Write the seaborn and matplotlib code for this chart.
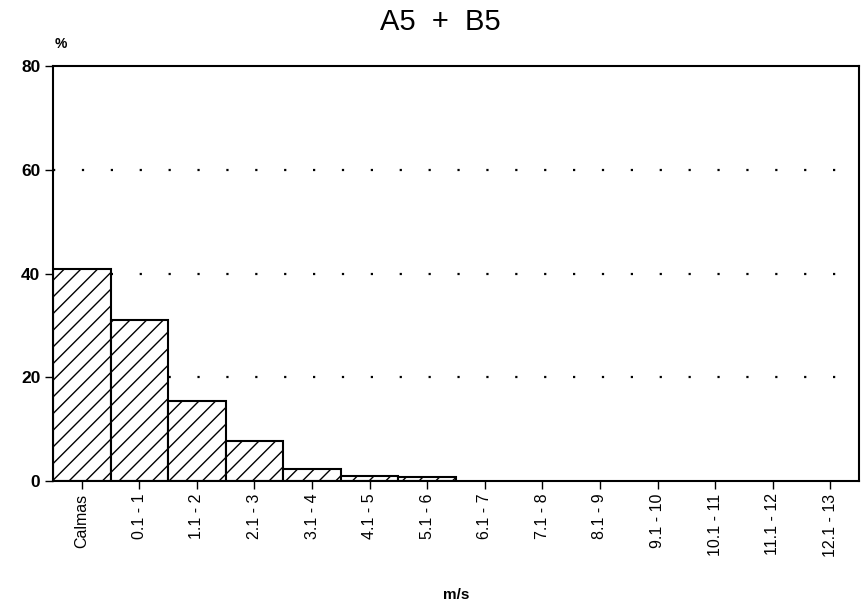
import matplotlib
matplotlib.use("Agg")
import matplotlib.pyplot as plt
import seaborn as sns
import pandas as pd

categories = ["Calmas", "0.1 - 1", "1.1 - 2", "2.1 - 3", "3.1 - 4", "4.1 - 5", "5.1 - 6",
              "6.1 - 7", "7.1 - 8", "8.1 - 9", "9.1 - 10", "10.1 - 11", "11.1 - 12", "12.1 - 13"]
values = [40.8, 31.1, 15.5, 7.7, 2.4, 1.0, 0.8, 0, 0, 0, 0, 0, 0, 0]
yticks = [0, 20, 40, 60, 80]

sns.set_theme(style="white")
plt.rcParams['font.family'] = ['Liberation Sans', 'DejaVu Sans']
plt.rcParams['hatch.linewidth'] = 1.0
plt.rcParams['text.color'] = 'black'
plt.rcParams['xtick.color'] = 'black'
plt.rcParams['ytick.color'] = 'black'

df = pd.DataFrame({"cat": categories, "val": values})

fig = plt.figure(figsize=(8.63, 6.06), dpi=100)
ax = fig.add_axes([0.0614, 0.2063, 0.934, 0.6847])
sns.barplot(data=df, x="cat", y="val", ax=ax, color="white", edgecolor="black",
            linewidth=1.5, width=1.0, hatch="//", saturation=1)
for p in ax.patches:
    p.set_facecolor("white")
    if p.get_height() == 0:
        p.set_visible(False)

ax.set_xlim(-0.5, len(categories) - 0.5)
ax.set_ylim(0, 80)
ax.set_yticks(yticks)
ax.set_yticklabels([str(v) for v in yticks], fontsize=12.5, fontweight="bold")
ax.set_xticks(range(len(categories)))
ax.set_xticklabels(categories, rotation=90, fontsize=11.5)
ax.tick_params(axis="both", direction="out", length=6, width=1, color="black",
               labelcolor="black", bottom=True, left=True, pad=3)
for v in [20, 40, 60]:
    ax.axhline(v, color="black", linestyle=(0, (1, 12)), linewidth=1.6, zorder=0)
for s in ax.spines.values():
    s.set_color("black")
    s.set_linewidth(1.5)
ax.set_xlabel("")
ax.set_ylabel("")
fig.text(0.51, 0.964, "A5  +  B5", ha="center", va="center", fontsize=21, color="black")
fig.text(0.07, 0.928, "%", ha="center", va="center", fontsize=10, fontweight="bold", color="black")
fig.text(0.529, 0.018, "m/s", ha="center", va="center", fontsize=11, fontweight="bold", color="black")
fig.savefig("out.png", dpi=100)
